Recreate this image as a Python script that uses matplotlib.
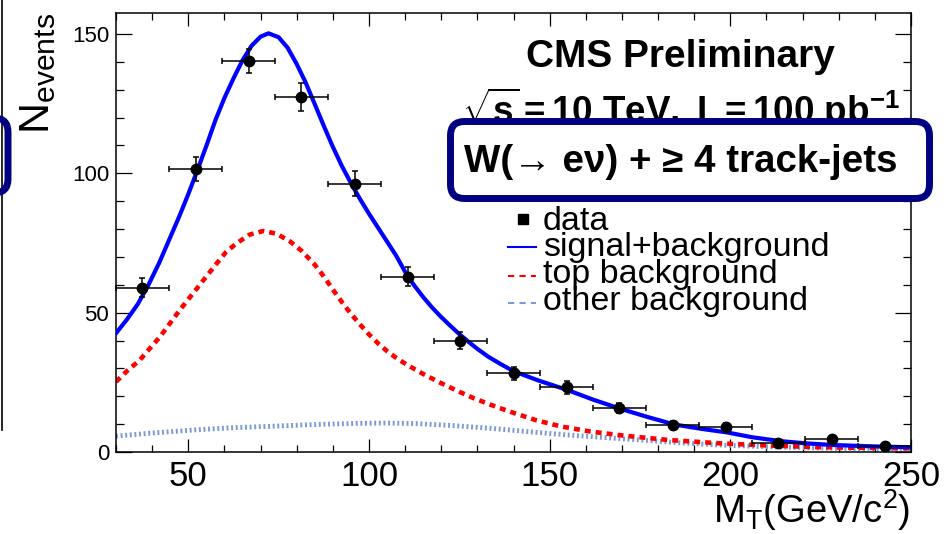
import matplotlib
matplotlib.use('Agg')
import matplotlib.pyplot as plt
from matplotlib.patches import FancyBboxPatch
from matplotlib.lines import Line2D
from matplotlib.transforms import IdentityTransform
from matplotlib.ticker import MultipleLocator

plt.rcParams['font.family'] = ['Liberation Sans', 'DejaVu Sans']
plt.rcParams['mathtext.fontset'] = 'custom'
plt.rcParams['mathtext.rm'] = 'Liberation Sans'
plt.rcParams['mathtext.it'] = 'Liberation Sans:italic'
plt.rcParams['mathtext.bf'] = 'Liberation Sans:bold'

# ---- data ----
bin_centers = [37.33, 52.0, 66.67, 81.33, 96.0, 110.67, 125.33, 140.0,
               154.67, 169.33, 184.0, 198.67, 213.33, 228.0, 242.67]
bin_halfwidth = 7.33
counts = [59.0, 101.4, 140.3, 127.3, 96.2, 62.9, 40.0, 28.2,
          23.2, 15.7, 9.7, 9.1, 3.1, 4.6, 2.2]
count_err = [3.4, 4.3, 4.3, 5.0, 4.5, 3.5, 2.9, 2.2,
             2.4, 1.8, 1.4, 1.3, 0.8, 1.0, 0.7]

sb_x = [30, 33, 36, 39, 42, 45, 47.5, 50, 52.5, 55, 57.5, 60, 62.5, 65, 67.5,
        70, 72.2, 75, 77.5, 80, 82.5, 85, 87.5, 90, 92.5, 95, 97.5, 100,
        102.5, 105, 107.5, 110.5, 112.5, 115, 117.5, 120, 122.5, 125, 127.5,
        130, 133, 136.5, 140, 147, 154.8, 162, 169.6, 177, 184.4, 192, 199.2,
        206, 213.9, 221, 228.7, 240, 250]
sb_y = [42.6, 47.5, 53.0, 60.0, 68.0, 77.0, 84.5, 92.5, 101.0, 109.8, 119.0,
        127.0, 134.0, 140.5, 145.7, 149.0, 150.2, 148.8, 145.0, 139.2, 132.5,
        124.8, 117.0, 109.5, 102.6, 96.5, 90.8, 85.5, 80.5, 75.5, 70.5, 63.5,
        59.8, 55.6, 51.8, 48.4, 45.3, 42.3, 39.6, 37.0, 34.2, 31.5, 29.0,
        25.6, 22.3, 18.8, 15.5, 12.6, 9.9, 8.3, 7.0, 5.3, 3.9, 3.1, 2.5, 2.0,
        1.7]

top_x = [30, 33, 36.6, 42.2, 47.7, 52.4, 57.9, 60.5, 63.4, 67, 70.8, 74.5,
         78.2, 81.5, 85, 87.5, 90, 92.5, 95, 97.5, 100, 102.5, 105, 107.5,
         110.5, 115, 119.8, 125, 129, 135, 140.1, 146, 153, 161, 169.6, 183,
         197.3, 211, 225.0, 237, 250]
top_y = [25.2, 29.0, 33.0, 41.4, 51.0, 58.7, 67.7, 71.8, 74.9, 78.0, 79.3,
         78.3, 75.5, 72.0, 67.2, 63.0, 58.3, 53.8, 49.6, 45.8, 42.2, 39.0,
         36.2, 33.8, 31.3, 28.0, 24.8, 21.6, 19.3, 16.3, 14.0, 11.5, 9.2, 7.4,
         6.0, 4.3, 3.1, 2.3, 1.7, 1.5, 1.3]

oth_x = [30, 40, 51.4, 62, 74.5, 86, 97.6, 105, 113, 123, 133.6, 145, 155,
         165, 175.2, 186, 197.3, 210, 225, 250]
oth_y = [5.7, 6.8, 7.9, 8.7, 9.3, 9.9, 10.3, 10.4, 10.2, 9.5, 8.5, 7.2, 6.1,
         5.2, 4.3, 3.3, 2.5, 1.9, 1.4, 1.0]

x_ticks = [50, 100, 150, 200, 250]
y_ticks = [0, 50, 100, 150]

W, H = 946, 534
NAVY = '#000080'

fig = plt.figure(figsize=(W / 100, H / 100), dpi=100)
ax = fig.add_axes([116 / W, (H - 452) / H, 795 / W, 439.3 / H])

ax.plot(oth_x, oth_y, color='#7b9bd6', lw=3.5, linestyle=(0, (0.4, 0.55)),
        solid_capstyle='butt', dash_capstyle='butt', zorder=2)
ax.plot(top_x, top_y, color='#ff0000', lw=3.3, linestyle=(0, (1.3, 1.1)),
        dash_capstyle='butt', zorder=2)
ax.plot(sb_x, sb_y, color='#0000ff', lw=3.0, zorder=3,
        solid_joinstyle='round')
ax.errorbar(bin_centers, counts, yerr=count_err, xerr=bin_halfwidth, fmt='o',
            color='black', ms=7.5, elinewidth=1.1, capsize=2.5, capthick=1.1,
            zorder=4, clip_on=False)

ax.set_xlim(30, 250)
ax.set_ylim(0, 157.6)
ax.set_xticks(x_ticks)
ax.set_yticks(y_ticks)
ax.xaxis.set_minor_locator(MultipleLocator(10))
ax.yaxis.set_minor_locator(MultipleLocator(10))
ax.tick_params(which='both', direction='in', top=True, right=True, width=0.9)
ax.tick_params(axis='x', which='major', length=9.4, labelsize=25, pad=6)
ax.tick_params(axis='x', which='minor', length=4.7)
ax.tick_params(axis='y', which='major', length=11.5, labelsize=16, pad=5)
ax.tick_params(axis='y', which='minor', length=5.8)
for s in ax.spines.values():
    s.set_linewidth(1.1)

ax.set_ylabel(r'$\mathrm{N_{events}}$', fontsize=31, loc='top')
ax.yaxis.set_label_coords(-0.073, 1.0)
ax.set_xlabel(r'$\mathrm{M_{T}(GeV/c^{2})}$', fontsize=27.5, loc='right')
ax.xaxis.set_label_coords(0.999, -0.08)


def fx(x):
    return x / W


def fy(y):
    return 1 - y / H


# titles
fig.text(fx(680), fy(66.7), 'CMS Preliminary', fontsize=28, fontweight='bold',
         ha='center', va='baseline', zorder=5)
fig.text(fx(681), fy(123), r'$\mathbf{\sqrt{s}=10\ TeV,\ L=100\ pb^{-1}}$',
         fontsize=26.5, ha='center', va='baseline', zorder=5)

# framed label box (white fill hides the lower part of the text above)
box = FancyBboxPatch((450.5, H - 198.5), 479, 77,
                     boxstyle='round,pad=0,rounding_size=14',
                     facecolor='white', edgecolor=NAVY, linewidth=5,
                     transform=IdentityTransform(), zorder=6)
fig.add_artist(box)
fig.text(fx(681), fy(172), 'W(→ eν) + ≥ 4 track-jets', fontsize=27.7,
         fontweight='bold', ha='center', va='baseline', zorder=7)

# partial box and line from the neighbouring panel
box2 = FancyBboxPatch((-80, H - 193), 88, 75,
                      boxstyle='round,pad=0,rounding_size=14',
                      facecolor='none', edgecolor=NAVY, linewidth=5,
                      transform=IdentityTransform(), zorder=6)
fig.add_artist(box2)
fig.add_artist(Line2D([1.5, 1.5], [H, H - 430], color='black', lw=1.2,
                      transform=IdentityTransform()))

# legend
leg_fs = 24.5
fig.add_artist(Line2D([523], [H - 219], marker='s', ms=6.5, color='black',
                      linestyle='none', transform=IdentityTransform()))
fig.text(fx(543), fy(230), 'data', fontsize=leg_fs, va='baseline')
fig.add_artist(Line2D([508, 536], [H - 247, H - 247], color='#0000ff', lw=1.5,
                      transform=IdentityTransform()))
fig.text(fx(543), fy(256), 'signal+background', fontsize=leg_fs, va='baseline')
fig.add_artist(Line2D([508, 536], [H - 276, H - 276], color='#ff0000', lw=1.5,
                      linestyle=(0, (3, 2.5)), transform=IdentityTransform()))
fig.text(fx(543), fy(283), 'top background', fontsize=leg_fs, va='baseline')
fig.add_artist(Line2D([508, 536], [H - 303, H - 303], color='#7b9bd6', lw=1.5,
                      linestyle=(0, (3, 2.5)), transform=IdentityTransform()))
fig.text(fx(543), fy(310), 'other background', fontsize=leg_fs, va='baseline')

fig.savefig('out.png', dpi=100)
